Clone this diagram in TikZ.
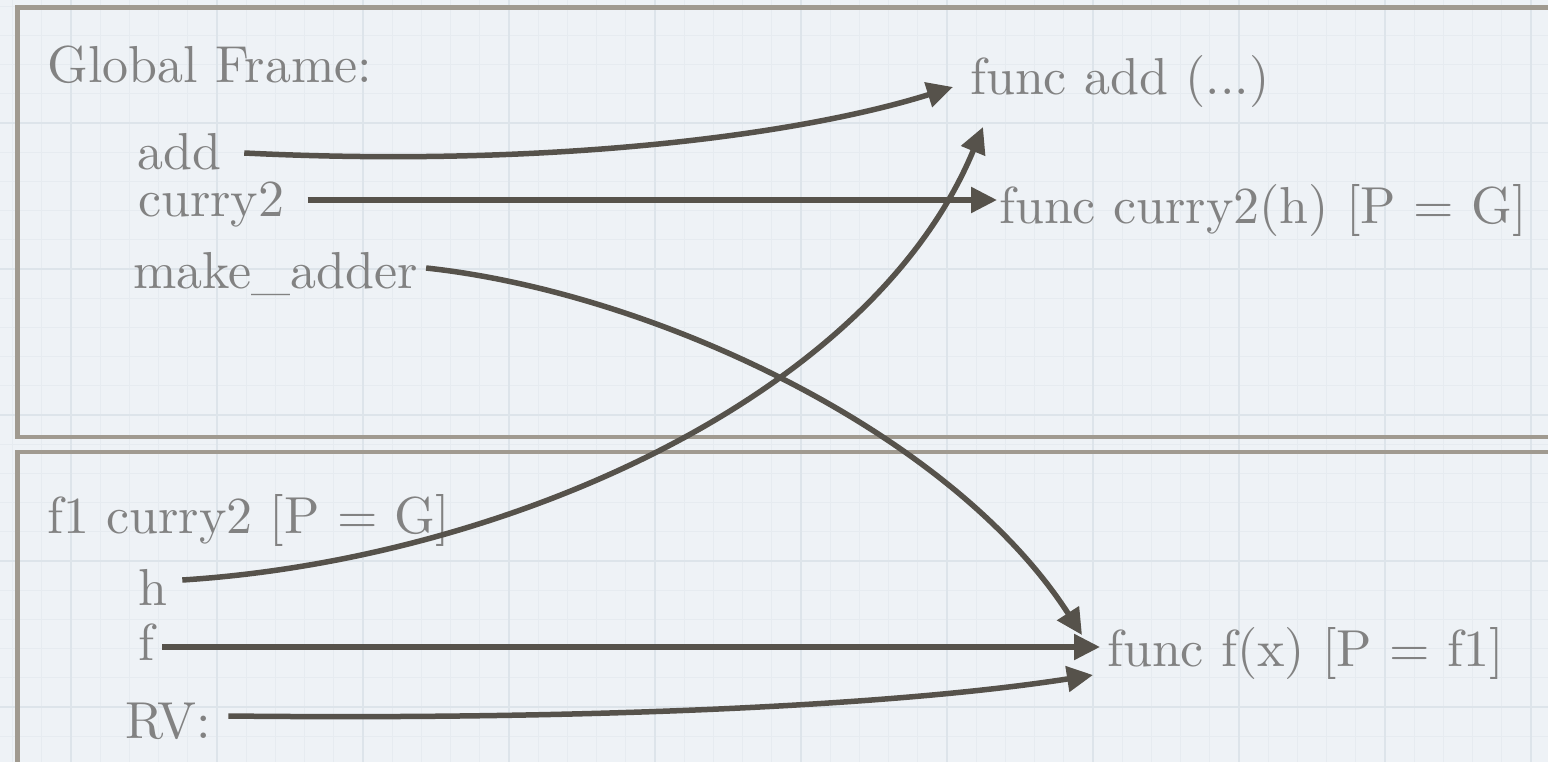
\documentclass[tikz,border=0pt]{standalone}
\usepackage{fontspec}
\setmainfont{lmroman10-regular}[Extension=.otf]
\usetikzlibrary{arrows.meta}
\definecolor{paper}{HTML}{EEF2F6}
\definecolor{gridmaj}{HTML}{DDE4EA}
\definecolor{gridmin}{HTML}{E6EBF0}
\definecolor{framegray}{HTML}{A09A90}
\definecolor{inkgray}{HTML}{828282}
\definecolor{arrowgray}{HTML}{56524B}

\begin{document}
\begin{tikzpicture}[x=1pt,y=-1pt]
	\tikzset{>={Triangle[length=26pt,width=25pt]}}
	\tikzset{lbl/.style={anchor=base west,inner sep=0pt,color=inkgray,font=\fontsize{52}{58}\selectfont}}
	\tikzset{ptr/.style={->,line width=5.5pt,color=arrowgray}}
	\useasboundingbox (0,0) rectangle (1548,762);

	% graph paper
	\begin{scope}
	\clip (0,0) rectangle (1548,762);
	\fill[paper] (0,0) rectangle (1548,762);
	\foreach \x in {12.6,41.8,...,1548} \draw[gridmin,line width=0.7pt] (\x,0)--(\x,762);
	\foreach \y in {6.2,35.4,...,762} \draw[gridmin,line width=0.7pt] (0,\y)--(1548,\y);
	\foreach \x in {71,217,...,1548} \draw[gridmaj,line width=1.2pt] (\x,0)--(\x,762);
	\foreach \y in {123,269,...,762} \draw[gridmaj,line width=1.2pt] (0,\y)--(1548,\y);

	% frames
	\draw[framegray,line width=4.5pt] (17.5,7.5) rectangle (1570,437);
	\draw[framegray,line width=4.5pt] (17.5,452) rectangle (1570,790);
	\end{scope}

	% global frame
	\node[lbl] (gf) at (47,83) {Global Frame:};
	\node[lbl] (vadd) at (137,170) {add};
	\node[lbl] (vcurry) at (138,217) {curry2};
	\node[lbl] (vmake) at (133,288) {make\_adder};

	% function objects
	\node[lbl] (fadd) at (970,95) {func add (...)};
	\node[lbl] (fcurry) at (999,224) {func curry2(h) [P = G]};
	\node[lbl] (ff) at (1107,666) {func f(x) [P = f1]};

	% f1 frame
	\node[lbl] (f1) at (47,533) {f1 curry2 [P = G]};
	\node[lbl] (vh) at (138,605) {h};
	\node[lbl] (vf) at (138,660) {f};
	\node[lbl] (vrv) at (125,738) {RV:};

	% pointers
	\draw[ptr] ([xshift=23pt,yshift=17pt]vadd.base east) .. controls (550,168) and (800,135) .. ([xshift=-17pt,yshift=8pt]fadd.base west);
	\draw[ptr] ([xshift=23pt,yshift=17pt]vcurry.base east) -- ([xshift=-2pt,yshift=24pt]fcurry.base west);
	\draw[ptr] ([xshift=8pt,yshift=20pt]vmake.base east) .. controls (650,292) and (950,430) .. ([xshift=-25pt,yshift=31pt]ff.base west);
	\draw[ptr] ([xshift=15pt,yshift=25pt]vh.base east) .. controls (500,560) and (870,400) .. ([xshift=13pt,yshift=-32pt]fadd.base west);
	\draw[ptr] ([xshift=8pt,yshift=13pt]vf.base east) -- ([xshift=-7pt,yshift=19pt]ff.base west);
	\draw[ptr] ([xshift=17pt,yshift=22pt]vrv.base east) .. controls (600,720) and (900,705) .. ([xshift=-14pt,yshift=-9pt]ff.base west);

\end{tikzpicture}
\end{document}
